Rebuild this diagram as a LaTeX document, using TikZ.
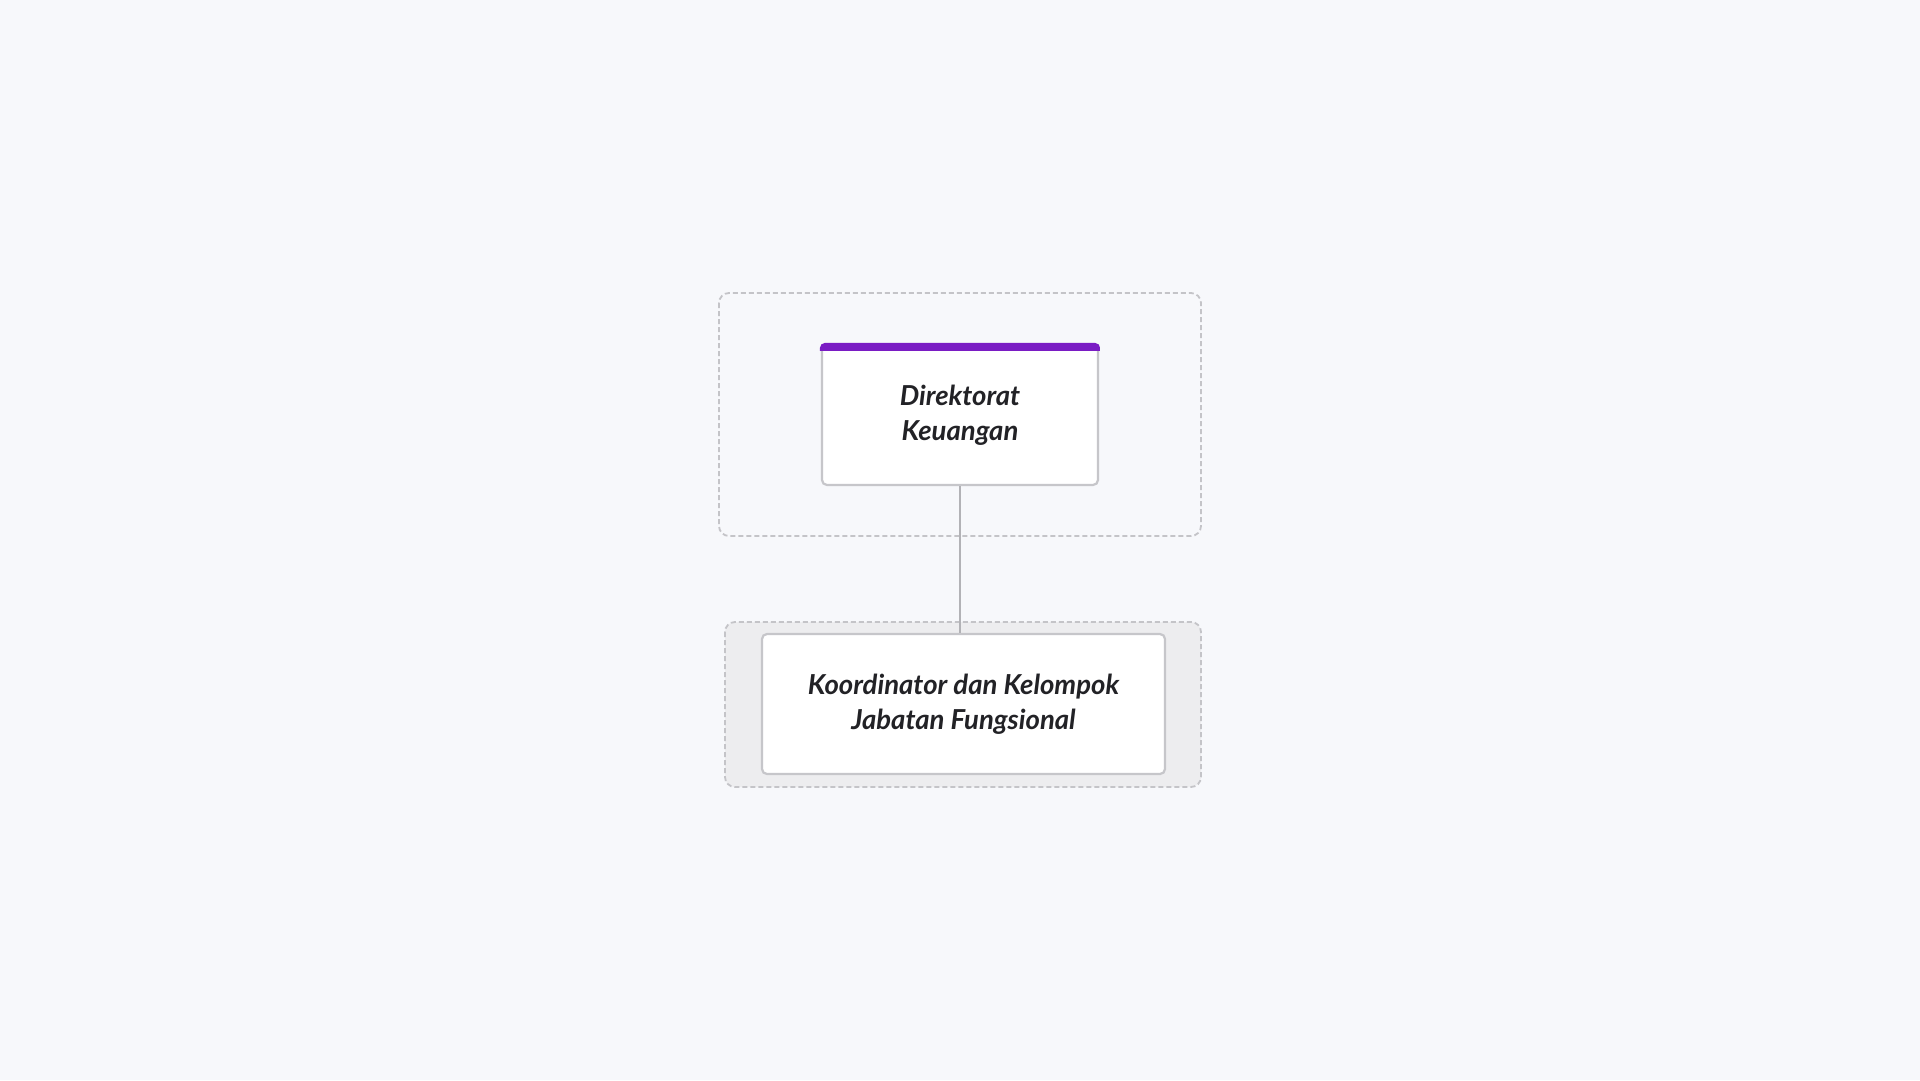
\documentclass[tikz,border=0pt]{standalone}
\usepackage{fontspec}
\setmainfont{Lato}
\usepackage{xcolor}
\definecolor{pagebg}{HTML}{F7F8FB}
\definecolor{groupfill}{HTML}{EDEDEF}
\definecolor{dashgray}{HTML}{C4C4C8}
\definecolor{boxgray}{HTML}{C6C6CA}
\definecolor{barpurple}{HTML}{7A1CC4}
\definecolor{textdark}{HTML}{222226}
\tikzset{
  group/.style={draw=dashgray, dash pattern=on 5pt off 3pt, line width=1.8pt, rounded corners=10pt},
  unit/.style={draw=boxgray, fill=white, line width=2.2pt, rounded corners=5pt,
    align=center, text=textdark, font=\fontsize{27.5}{35}\selectfont\bfseries\itshape},
  link/.style={draw=boxgray!90!black, line width=2.6pt}
}
\begin{document}
\begin{tikzpicture}[x=1pt,y=-1pt]
%% page
\fill[pagebg] (0,0) rectangle (1920,1080);
\useasboundingbox (0,0) rectangle (1920,1080);
%% groups
\draw[group] (719,293) rectangle (1201,536);
\draw[group, fill=groupfill] (725,622) rectangle (1201,787);
%% units
\node[unit, minimum width=276pt, minimum height=140pt] (dirkeu) at (960,415) {Direktorat\\Keuangan};
\node[unit, minimum width=403pt, minimum height=140pt] (jafung) at (963.5,704) {Koordinator dan Kelompok\\Jabatan Fungsional};
%% purple bar
\begin{scope}
\clip[rounded corners=5pt] ([shift={(-1pt,1pt)}]dirkeu.north west) rectangle ([xshift=1pt]dirkeu.south east);
\fill[barpurple] ([shift={(-2pt,2pt)}]dirkeu.north west) rectangle ([shift={(2pt,-7pt)}]dirkeu.north east);
\end{scope}
%% link
\draw[link] (dirkeu.south) -- (dirkeu.south |- jafung.north);
\end{tikzpicture}
\end{document}
